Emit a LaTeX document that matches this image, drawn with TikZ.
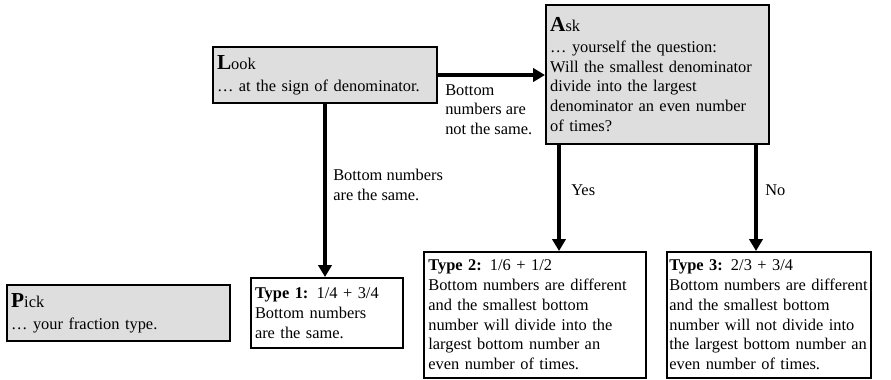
\documentclass[tikz,border=0pt]{standalone}
\usepackage{fontspec}
\setmainfont{Liberation Serif}
\usetikzlibrary{arrows.meta}
\definecolor{boxgray}{HTML}{DEDEDE}
\newcommand{\bighead}[2]{{\fontsize{16}{15}\selectfont\textbf{#1}}#2}

\begin{document}
\begin{tikzpicture}[x=0.75pt,y=-0.75pt,
    font=\fontsize{12.3}{14.8}\selectfont,
    stepbox/.style={draw, line width=1.5pt, anchor=north west, align=left, inner xsep=3pt, inner ysep=2pt},
    graybox/.style={stepbox, fill=boxgray},
    typebox/.style={stepbox, fill=white},
    flow/.style={line width=3pt, -{Triangle[length=9pt,width=10pt]}},
    lbl/.style={anchor=north west, align=left, inner sep=0pt}]
    \useasboundingbox (0,0) rectangle (891,379);

    \node[graybox, minimum width=168pt, minimum height=42pt, text width=162pt] (look) at (212,46)
        {\bighead{L}{ook}\\[2pt]\dots\ at the sign of denominator.};
    \node[graybox, minimum width=167.25pt, minimum height=104.25pt, text width=161pt] (ask) at (545,4)
        {\bighead{A}{sk}\\[1pt]\dots\ yourself the question:\\Will the smallest denominator\\divide into the largest\\denominator an even number\\of times?};
    \node[graybox, minimum width=167.25pt, minimum height=42pt, text width=161pt] (pick) at (6,284)
        {\bighead{P}{ick}\\[2pt]\dots\ your fraction type.};

    \node[typebox, minimum width=114pt, minimum height=52.5pt, text width=108pt] (type1) at (250,277)
        {\textbf{Type 1:} 1/4 + 3/4\\Bottom numbers\\are the same.};
    \node[typebox, minimum width=166.5pt, minimum height=94.5pt, text width=160pt] (type2) at (423,251)
        {\textbf{Type 2:} 1/6 + 1/2\\Bottom numbers are different\\and the smallest bottom\\number will divide into the\\largest bottom number an\\even number of times.};
    \node[typebox, minimum width=153pt, minimum height=94.5pt, text width=149.5pt, inner xsep=1.75pt] (type3) at (666,251)
        {\textbf{Type 3:} 2/3 + 3/4\\Bottom numbers are different\\and the smallest bottom\\number will not divide into\\the largest bottom number an\\even number of times.};

    \draw[flow] (look.east) -- (look.east -| ask.west);
    \draw[flow] (look.south) -- (look.south |- type1.north);
    \coordinate (yesstart) at ([xshift=10.5pt]ask.south west);
    \coordinate (nostart) at ([xshift=-10.5pt]ask.south east);
    \draw[flow] (yesstart) -- (yesstart |- type2.north);
    \draw[flow] (nostart) -- (nostart |- type3.north);

    \node[lbl] (notsame) at (445,84) {Bottom\\numbers are\\not the same.};
    \node[lbl] (same) at (333,169) {Bottom numbers\\are the same.};
    \node[lbl, anchor=west] (yes) at (571,190) {Yes};
    \node[lbl, anchor=west] (no) at (765,190) {No};
\end{tikzpicture}
\end{document}
